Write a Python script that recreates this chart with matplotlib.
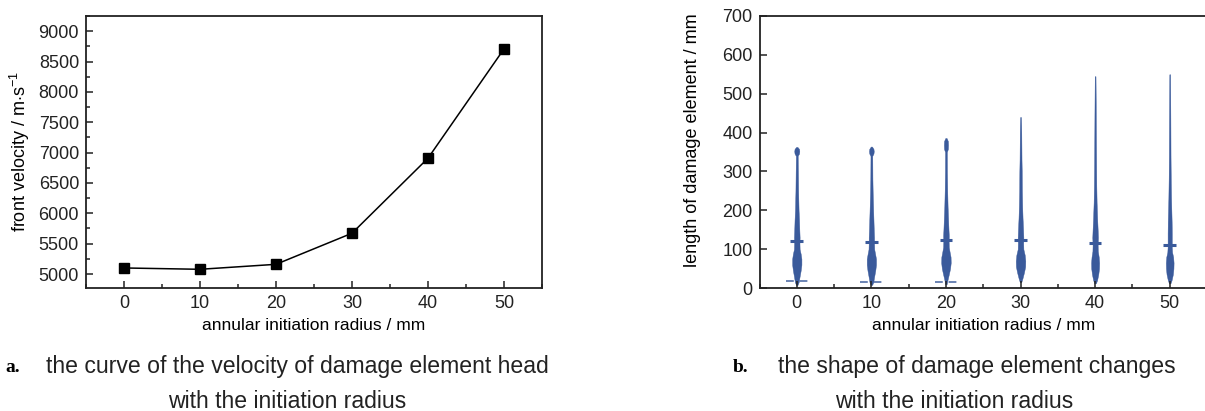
import matplotlib
matplotlib.use("Agg")
import matplotlib.pyplot as plt
from matplotlib.ticker import MultipleLocator
import numpy as np

# ---------------- data ----------------
radius = [0, 10, 20, 30, 40, 50]
front_velocity = [5100, 5078, 5160, 5672, 6908, 8708]

# violin profiles: heights (mm) and half-widths (in x-axis units)
v0_y = [8, 15, 30, 45, 60, 75, 88, 100, 115, 130, 150, 175, 200, 250, 300, 340, 346, 352, 358, 363]
v0_w = [0.1, 0.25, 0.38, 0.52, 0.62, 0.62, 0.52, 0.38, 0.36, 0.38, 0.34, 0.3, 0.24, 0.18, 0.15, 0.12, 0.3, 0.34, 0.3, 0.08]
v10_y = [8, 15, 30, 45, 60, 75, 88, 100, 115, 130, 150, 175, 200, 240, 280, 340, 346, 352, 358, 364]
v10_w = [0.1, 0.25, 0.38, 0.52, 0.62, 0.62, 0.5, 0.38, 0.36, 0.36, 0.32, 0.28, 0.24, 0.18, 0.14, 0.12, 0.28, 0.32, 0.28, 0.08]
v20_y = [10, 20, 35, 50, 65, 80, 92, 105, 120, 135, 150, 180, 210, 250, 300, 350, 358, 368, 378, 386]
v20_w = [0.1, 0.2, 0.38, 0.55, 0.64, 0.62, 0.5, 0.38, 0.36, 0.38, 0.34, 0.28, 0.22, 0.17, 0.13, 0.12, 0.26, 0.28, 0.26, 0.08]
v30_y = [15, 25, 40, 55, 70, 85, 100, 115, 130, 150, 180, 210, 250, 300, 330, 400, 420, 440]
v30_w = [0.1, 0.26, 0.46, 0.62, 0.64, 0.56, 0.38, 0.36, 0.38, 0.34, 0.27, 0.22, 0.18, 0.16, 0.13, 0.1, 0.08, 0.05]
v40_y = [12, 20, 35, 50, 65, 80, 95, 110, 130, 150, 180, 220, 260, 300, 380, 450, 500, 545]
v40_w = [0.1, 0.26, 0.42, 0.52, 0.54, 0.48, 0.36, 0.34, 0.38, 0.34, 0.27, 0.2, 0.16, 0.14, 0.11, 0.09, 0.07, 0.05]
v50_y = [12, 20, 35, 50, 65, 80, 92, 105, 120, 140, 170, 200, 230, 280, 340, 430, 500, 550]
v50_w = [0.1, 0.25, 0.42, 0.5, 0.52, 0.46, 0.32, 0.28, 0.28, 0.28, 0.26, 0.22, 0.18, 0.14, 0.11, 0.09, 0.07, 0.05]
violin_y = [v0_y, v10_y, v20_y, v30_y, v40_y, v50_y]
violin_w = [v0_w, v10_w, v20_w, v30_w, v40_w, v50_w]

mean_length = [121, 119, 124, 123, 116, 110]
min_radius = [0, 10, 20]
min_length = [18, 15, 16]

# ---------------- figure ----------------
W, H = 1205, 411
fig = plt.figure(figsize=(W / 100, H / 100), dpi=100)
plt.rcParams["font.family"] = ["Liberation Sans", "DejaVu Sans"]
plt.rcParams["mathtext.fontset"] = "custom"
plt.rcParams["mathtext.rm"] = "Liberation Sans"

def px_axes(l, r, t, b):
    return fig.add_axes([l / W, 1 - b / H, (r - l) / W, (b - t) / H])

def style(ax):
    for s in ax.spines.values():
        s.set_linewidth(1.3)
        s.set_color("#222222")
    ax.tick_params(which="both", direction="in", top=False, right=False,
                   labelsize=13, colors="#222222", width=1.1, pad=5)
    ax.tick_params(which="major", length=5)
    ax.tick_params(which="minor", length=3)

# ---- panel a ----
ax1 = px_axes(86, 542, 16, 288)
ax1.plot(radius, front_velocity, color="black", lw=1.1, marker="s", ms=6.5,
         mfc="black", mec="black")
ax1.set_xlim(-5, 55)
ax1.set_ylim(4770, 9250)
ax1.xaxis.set_major_locator(MultipleLocator(10))
ax1.xaxis.set_minor_locator(MultipleLocator(5))
ax1.yaxis.set_major_locator(MultipleLocator(500))
ax1.yaxis.set_minor_locator(MultipleLocator(250))
style(ax1)
ax1.set_xlabel("annular initiation radius / mm", fontsize=12.5, labelpad=4)
ax1.set_ylabel(r"front velocity / m$\cdot$s$^{\mathregular{-1}}$", fontsize=13, labelpad=5)

# ---- panel b ----
ax2 = px_axes(759.5, 1207, 16, 288)
blue = "#3a5a9b"
for xc, ys, ws in zip(radius, violin_y, violin_w):
    ys = np.asarray(ys, float)
    ws = np.asarray(ws, float)
    ax2.fill_betweenx(ys, xc - ws, xc + ws, color=blue, lw=0.3, ec=blue)
ax2.hlines(mean_length, np.array(radius) - 0.85, np.array(radius) + 0.85,
           color=blue, lw=2.2)
ax2.hlines(min_length, np.array(min_radius) - 1.5, np.array(min_radius) + 1.5,
           color=blue, lw=1.4, linestyles=(0, (4, 3)), alpha=0.75)
ax2.set_xlim(-5, 55)
ax2.set_ylim(0, 700)
ax2.xaxis.set_major_locator(MultipleLocator(10))
ax2.xaxis.set_minor_locator(MultipleLocator(5))
ax2.yaxis.set_major_locator(MultipleLocator(100))
style(ax2)
ax2.set_xlabel("annular initiation radius / mm", fontsize=12.5, labelpad=4)
ax2.set_ylabel("length of damage element / mm", fontsize=13, labelpad=4)
ax2.yaxis.set_label_coords(-0.13, 0.545)

# ---- captions ----
cap_font = ["Liberation Sans", "DejaVu Sans"]
fig.text(5 / W, 1 - 367 / H, "a.", fontsize=14, fontweight="bold",
         family=["Liberation Serif", "DejaVu Serif"], va="center", ha="left")
fig.text(46 / W, 1 - 366 / H, "the curve of the velocity of damage element head",
         fontsize=16.6, family=cap_font, va="center", ha="left", color="#222222")
fig.text(287 / W, 1 - 401 / H, "with the initiation radius",
         fontsize=16.6, family=cap_font, va="center", ha="center", color="#222222")
fig.text(733 / W, 1 - 367 / H, "b.", fontsize=14, fontweight="bold",
         family=["Liberation Serif", "DejaVu Serif"], va="center", ha="left")
fig.text(778 / W, 1 - 366 / H, "the shape of damage element changes",
         fontsize=16.6, family=cap_font, va="center", ha="left", color="#222222")
fig.text(954 / W, 1 - 401 / H, "with the initiation radius",
         fontsize=16.6, family=cap_font, va="center", ha="center", color="#222222")

fig.savefig("out.png", dpi=100)
